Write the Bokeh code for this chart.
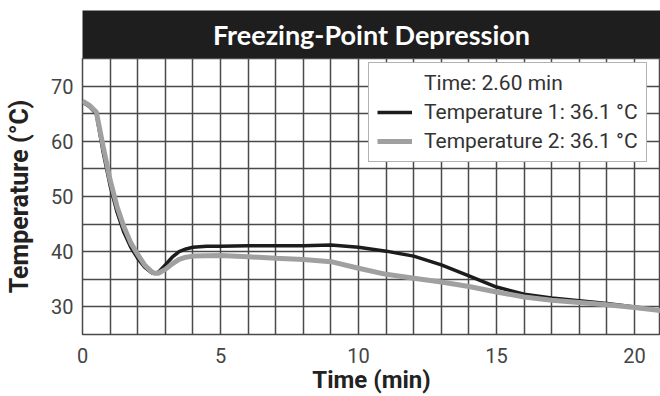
from bokeh.plotting import figure
from bokeh.layouts import column
from bokeh.models import Range1d, FixedTicker, Label, Legend, LegendItem
from bokeh.embed import file_html
from bokeh.resources import INLINE

# ---- data ----
time1 = [0, 0.25, 0.5, 0.75, 1.0, 1.25, 1.5, 1.75, 2.0, 2.25, 2.5, 2.6, 2.75, 3.0, 3.25, 3.5, 3.75, 4.0, 4.5,
         5, 6, 7, 8, 9, 10, 11, 12, 13, 14, 15, 16, 17, 18, 19, 20, 21]
temp1 = [67.1, 66.3, 65.0, 58.0, 52.0, 47.2, 43.5, 40.8, 38.8, 37.2, 36.2, 36.1, 36.3, 37.6, 39.0, 40.0, 40.5, 40.8, 41.0,
         41.0, 41.1, 41.1, 41.1, 41.2, 40.8, 40.1, 39.2, 37.6, 35.6, 33.6, 32.3, 31.6, 31.1, 30.6, 30.0, 29.3]
time2 = [0, 0.25, 0.5, 0.75, 1.0, 1.25, 1.5, 1.75, 2.0, 2.25, 2.5, 2.6, 2.75, 3.0, 3.25, 3.5, 3.75, 4.0,
         5, 6, 7, 8, 9, 10, 11, 12, 13, 14, 15, 16, 17, 18, 19, 20, 21]
temp2 = [67.3, 66.5, 65.3, 59.0, 53.0, 48.2, 44.5, 41.6, 39.5, 37.6, 36.4, 36.1, 36.1, 36.8, 37.8, 38.6, 39.0, 39.2,
         39.3, 39.1, 38.8, 38.6, 38.2, 37.0, 35.9, 35.2, 34.5, 33.7, 32.7, 31.8, 31.2, 30.8, 30.4, 29.9, 29.3]
x_ticks = [0, 5, 10, 15, 20]
y_ticks = [30, 40, 50, 60, 70]
x_grid = list(range(0, 22))
y_grid = [25, 30, 35, 40, 45, 50, 55, 60, 65, 70, 75]
title_text = "Freezing-Point Depression"
x_title = "Time (min)"
y_title = "Temperature (°C)"
legend_header = "Time: 2.60 min"
label1 = "Temperature 1: 36.1 °C"
label2 = "Temperature 2: 36.1 °C"

GRID = "#4a4a4a"
FONT = "Roboto"
XR = (0, 20.94)

# ---- title bar ----
top = figure(width=660, height=58, output_backend="svg", toolbar_location=None,
             x_range=Range1d(*XR), y_range=Range1d(0, 1), x_axis_type=None, y_axis_type=None,
             min_border_left=82, min_border_top=10, min_border_right=0, min_border_bottom=0)
top.background_fill_color = "#1e1e1e"
top.border_fill_color = "white"
top.outline_line_color = None
top.grid.visible = False
top.add_layout(Label(x=10.47, y=0.5, text=title_text, text_align="center", text_baseline="middle",
                     text_color="white", text_font="Lato", text_font_style="bold", text_font_size="27px"))

# ---- main chart ----
p = figure(width=660, height=338, output_backend="svg", toolbar_location=None,
           x_range=Range1d(*XR), y_range=Range1d(25, 75),
           min_border_left=82, min_border_top=0, min_border_right=0, min_border_bottom=62)
p.background_fill_color = "white"
p.border_fill_color = "white"
p.outline_line_color = GRID
p.outline_line_width = 1.5

p.xaxis.ticker = FixedTicker(ticks=x_ticks)
p.yaxis.ticker = FixedTicker(ticks=y_ticks)
p.xgrid.ticker = FixedTicker(ticks=x_grid)
p.ygrid.ticker = FixedTicker(ticks=y_grid)
for g in (p.xgrid, p.ygrid):
    g.grid_line_color = GRID
    g.grid_line_width = 1.5
    g.grid_line_alpha = 1.0

for ax in (p.xaxis, p.yaxis):
    ax.axis_line_color = None
    ax.major_tick_line_color = None
    ax.minor_tick_line_color = None
    ax.major_tick_out = 0
    ax.major_tick_in = 0
    ax.minor_tick_out = 0
    ax.major_label_text_font = FONT
    ax.major_label_text_font_size = "20px"
    ax.major_label_text_color = "#444444"
    ax.axis_label_text_font = FONT
    ax.axis_label_text_font_style = "bold"
    ax.axis_label_text_color = "#222222"
p.xaxis.major_label_standoff = 13
p.yaxis.major_label_standoff = 9
p.xaxis.axis_label = x_title
p.xaxis.axis_label_text_font_size = "24px"
p.xaxis.axis_label_standoff = 0
p.yaxis.axis_label = y_title
p.yaxis.axis_label_text_font_size = "25px"
p.yaxis.axis_label_standoff = 14

r1 = p.line(time1, temp1, line_color="#1c1c1c", line_width=3.5)
r2 = p.line(time2, temp2, line_color="#a0a0a0", line_width=5)
r0 = p.line([], [], line_alpha=0)  # header row of the legend (no visible swatch)

legend = Legend(items=[LegendItem(label=legend_header, renderers=[r0]),
                       LegendItem(label=label1, renderers=[r1]),
                       LegendItem(label=label2, renderers=[r2])],
                location=(286, 172))
legend.label_text_font = FONT
legend.label_text_font_size = "21px"
legend.label_text_color = "#333333"
legend.glyph_width = 35
legend.glyph_height = 24
legend.label_height = 24
legend.label_standoff = 12
legend.spacing = 5
legend.padding = 8
legend.border_line_color = "#666666"
legend.border_line_width = 1
legend.background_fill_alpha = 1
legend.margin = 0
p.add_layout(legend)

layout = column(top, p, spacing=0)
open("out.html", "w").write(file_html(layout, INLINE))
